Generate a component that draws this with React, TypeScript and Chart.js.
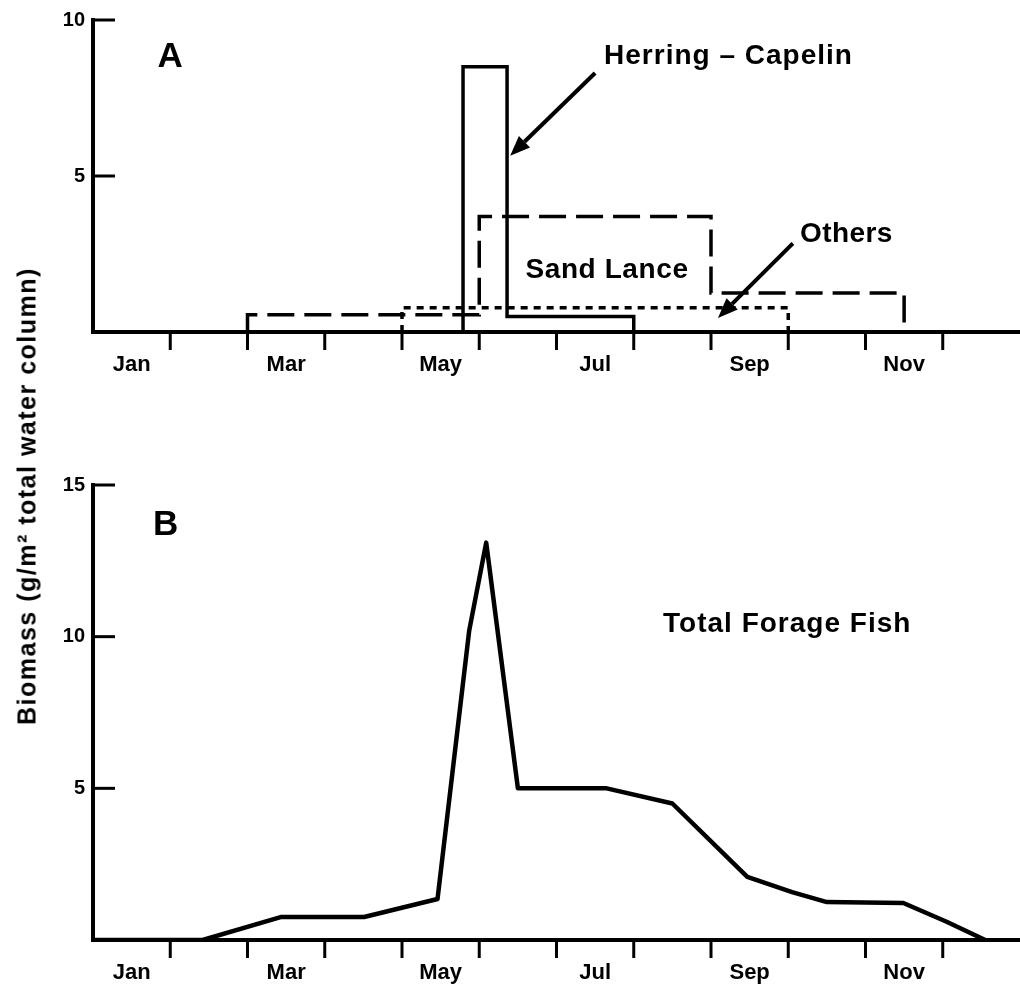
import React, { useEffect, useRef } from 'react';
import { Chart, registerables } from 'chart.js';

Chart.register(...registerables);

const FONT = '"Liberation Sans", Arial, Helvetica, sans-serif';

// x axis: months from 1 Jan (0) to 31 Dec (12)
const monthLabels = ['Jan', 'Mar', 'May', 'Jul', 'Sep', 'Nov'];
const monthLabelIndex = [0, 2, 4, 6, 8, 10];
const monthBoundaries = [1, 2, 3, 4, 5, 6, 7, 8, 9, 10, 11];

// Panel A — biomass by group (g/m²)
const herringX = [4.79, 4.79, 5.36, 5.36, 7.0, 7.0];
const herringY = [0, 8.5, 8.5, 0.5, 0.5, 0];
const sandLanceX = [2.0, 2.0, 5.0, 5.0, 8.0, 8.0, 10.5, 10.5];
const sandLanceY = [0, 0.55, 0.55, 3.7, 3.7, 1.25, 1.25, 0];
const othersX = [4.0, 4.0, 9.0, 9.0];
const othersY = [0, 0.78, 0.78, 0];
const yTicksA = [5, 10];

// Panel B — total forage fish (g/m²)
const totalX = [0, 1.42, 2.44, 3.51, 4.46, 4.87, 5.09, 5.5, 6.65, 7.5, 8.47, 9.05, 9.5, 10.49, 11.05, 11.55];
const totalY = [0, 0, 0.76, 0.76, 1.35, 10.2, 13.1, 5.0, 5.0, 4.5, 2.08, 1.58, 1.25, 1.22, 0.6, 0];
const yTicksB = [5, 10, 15];

// annotations (in data coordinates)
const textsA = [
  { text: 'A', x: 1.0, y: 8.5, size: 35, spacing: 0 },
  { text: 'Herring – Capelin', x: 8.22, y: 8.6, size: 28, spacing: 1 },
  { text: 'Sand Lance', x: 6.65, y: 1.73, size: 28, spacing: 0.6 },
  { text: 'Others', x: 9.75, y: 2.88, size: 28, spacing: 0.4 },
];
const arrowsA = [
  { x1: 6.5, y1: 8.3, x2: 5.4, y2: 5.65 },
  { x1: 9.06, y1: 2.84, x2: 8.09, y2: 0.45 },
];
const textsB = [
  { text: 'B', x: 0.94, y: 13.35, size: 35, spacing: 0 },
  { text: 'Total Forage Fish', x: 8.98, y: 10.15, size: 28, spacing: 1 },
];

const pts = (xs: number[], ys: number[]) => xs.map((x, i) => ({ x, y: ys[i] }));

const decorPlugin = {
  id: 'decor',
  afterDatasetsDraw(chart: any, _args: any, opts: any) {
    const { ctx } = chart;
    const x = chart.scales.x;
    const y = chart.scales.y;
    ctx.save();
    ctx.strokeStyle = '#000';
    ctx.fillStyle = '#000';
    ctx.lineCap = 'butt';
    ctx.lineWidth = 3;
    const yb = y.getPixelForValue(0);
    for (const b of opts.xTicks || []) {
      const px = x.getPixelForValue(b);
      ctx.beginPath();
      ctx.moveTo(px, yb);
      ctx.lineTo(px, yb + 18);
      ctx.stroke();
    }
    const xl = x.getPixelForValue(0);
    for (const t of opts.yTicks || []) {
      const py = y.getPixelForValue(t);
      ctx.beginPath();
      ctx.moveTo(xl, py);
      ctx.lineTo(xl + 22, py);
      ctx.stroke();
    }
    for (const a of opts.arrows || []) {
      const sx = x.getPixelForValue(a.x1);
      const sy = y.getPixelForValue(a.y1);
      const tx = x.getPixelForValue(a.x2);
      const ty = y.getPixelForValue(a.y2);
      const ang = Math.atan2(ty - sy, tx - sx);
      const hl = 20;
      const hw = 8;
      const bx = tx - hl * Math.cos(ang);
      const by = ty - hl * Math.sin(ang);
      ctx.lineWidth = 4;
      ctx.beginPath();
      ctx.moveTo(sx, sy);
      ctx.lineTo(bx, by);
      ctx.stroke();
      ctx.beginPath();
      ctx.moveTo(tx, ty);
      ctx.lineTo(bx + hw * Math.sin(ang), by - hw * Math.cos(ang));
      ctx.lineTo(bx - hw * Math.sin(ang), by + hw * Math.cos(ang));
      ctx.closePath();
      ctx.fill();
    }
    ctx.textAlign = 'center';
    ctx.textBaseline = 'alphabetic';
    for (const t of opts.texts || []) {
      ctx.font = `bold ${t.size}px ${FONT}`;
      (ctx as any).letterSpacing = `${t.spacing}px`;
      ctx.fillText(t.text, x.getPixelForValue(t.x) + t.spacing / 2, y.getPixelForValue(t.y));
    }
    (ctx as any).letterSpacing = '0px';
    ctx.restore();
  },
};

function makeOptions(yMax: number, padTop: number, xHeight: number, decor: any) {
  return {
    responsive: false,
    animation: false as const,
    layout: { padding: { top: padTop, left: 0, right: 0, bottom: 0 } },
    plugins: {
      legend: { display: false },
      tooltip: { enabled: false },
      decor,
    },
    elements: { point: { radius: 0 }, line: { tension: 0 } },
    scales: {
      x: {
        type: 'linear' as const,
        min: 0,
        max: 12,
        grid: { display: false, drawTicks: false },
        border: { display: true, color: '#000', width: 4 },
        afterBuildTicks: (s: any) => {
          s.ticks = monthLabelIndex.map((i) => ({ value: i + 0.5 }));
        },
        afterFit: (s: any) => {
          s.height = xHeight;
        },
        ticks: {
          autoSkip: false,
          maxRotation: 0,
          padding: 20,
          color: '#000',
          font: { family: FONT, size: 22, weight: 'bold' as const },
          callback: (_v: any, i: number) => monthLabels[i],
        },
      },
      y: {
        type: 'linear' as const,
        min: 0,
        max: yMax,
        grid: { display: false, drawTicks: false },
        border: { display: true, color: '#000', width: 4 },
        afterFit: (s: any) => {
          s.width = 93;
        },
        ticks: {
          stepSize: 5,
          padding: 8,
          color: '#000',
          font: { family: FONT, size: 20, weight: 'bold' as const },
          callback: (v: any) => (v === 0 ? '' : String(v)),
        },
      },
    },
  };
}

export default function App() {
  const refA = useRef<HTMLCanvasElement>(null);
  const refB = useRef<HTMLCanvasElement>(null);

  useEffect(() => {
    const lineStyle = { showLine: true, borderColor: '#000', pointRadius: 0, fill: false };
    const chartA = new Chart(refA.current!, {
      type: 'scatter',
      data: {
        datasets: [
          { label: 'Herring – Capelin', data: pts(herringX, herringY), borderWidth: 3.5, borderJoinStyle: 'miter', ...lineStyle },
          { label: 'Sand Lance', data: pts(sandLanceX, sandLanceY), borderWidth: 3.5, borderDash: [27, 10], borderJoinStyle: 'miter', ...lineStyle },
          { label: 'Others', data: pts(othersX, othersY), borderWidth: 3.5, borderDash: [7, 6], borderJoinStyle: 'miter', ...lineStyle },
        ],
      },
      options: makeOptions(10, 19, 53, { xTicks: monthBoundaries, yTicks: yTicksA, arrows: arrowsA, texts: textsA }) as any,
      plugins: [decorPlugin],
    });
    const chartB = new Chart(refB.current!, {
      type: 'scatter',
      data: {
        datasets: [
          { label: 'Total Forage Fish', data: pts(totalX, totalY), borderWidth: 4.5, borderJoinStyle: 'round', ...lineStyle },
        ],
      },
      options: makeOptions(15, 45, 52, { xTicks: monthBoundaries, yTicks: yTicksB, arrows: [], texts: textsB }) as any,
      plugins: [decorPlugin],
    });
    return () => {
      chartA.destroy();
      chartB.destroy();
    };
  }, []);

  return (
    <div style={{ position: 'absolute', left: 0, top: 0, width: 1020, height: 992, background: '#fff', overflow: 'hidden' }}>
      <div style={{ position: 'absolute', left: 0, top: 0 }}>
        <canvas ref={refA} width={1020} height={385} />
      </div>
      <div style={{ position: 'absolute', left: 0, top: 440 }}>
        <canvas ref={refB} width={1020} height={552} />
      </div>
      <div
        style={{
          position: 'absolute',
          left: 27,
          top: 496,
          transform: 'translate(-50%, -50%) rotate(-90deg)',
          whiteSpace: 'nowrap',
          font: `bold 25px ${FONT}`,
          letterSpacing: '1.5px',
          color: '#000',
        }}
      >
        Biomass (g/m² total water column)
      </div>
    </div>
  );
}
